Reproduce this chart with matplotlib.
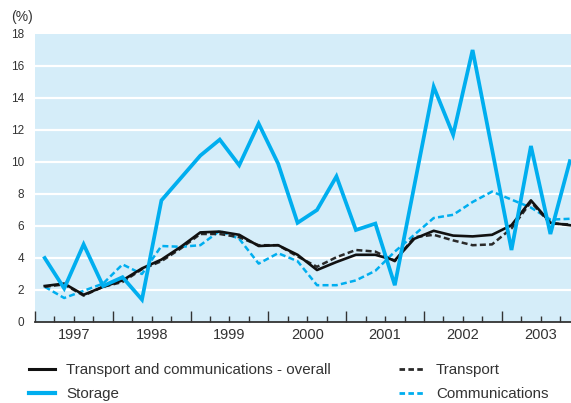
"""Quarterly price change by sector, 1997-2003."""

import matplotlib

matplotlib.use("Agg")

import matplotlib.pyplot as plt
from matplotlib.lines import Line2D
from matplotlib.transforms import blended_transform_factory

plt.rcParams["font.family"] = ["Liberation Sans", "DejaVu Sans"]

years = ["1997", "1998", "1999", "2000", "2001", "2002", "2003"]
quarters = list(range(28))  # 1997 Q1 .. 2003 Q4

overall = [2.25, 2.4, 1.7, 2.2, 2.6, 3.35, 3.9, 4.7, 5.6, 5.65, 5.45, 4.75, 4.8, 4.2,
           3.25, 3.75, 4.2, 4.2, 3.85, 5.2, 5.7, 5.4, 5.35, 5.45, 6.05, 7.6, 6.2, 6.05]
storage = [4.0, 2.1, 4.85, 2.25, 2.8, 1.4, 7.6, 9.0, 10.4, 11.4, 9.8, 12.4, 9.9, 6.2,
           7.0, 9.1, 5.75, 6.15, 2.3, 8.5, 14.7, 11.7, 17.0, 10.8, 4.5, 11.0, 5.5, 10.05]
transport = [2.2, 2.35, 1.65, 2.2, 2.5, 3.3, 3.8, 4.6, 5.5, 5.5, 5.3, 4.8, 4.8, 4.1,
             3.45, 4.05, 4.5, 4.4, 3.8, 5.3, 5.45, 5.1, 4.8, 4.85, 5.85, 7.5, 6.15, 6.1]
communications = [2.2, 1.5, 1.95, 2.4, 3.6, 3.0, 4.75, 4.7, 4.8, 5.7, 5.2, 3.65, 4.3, 3.8,
                  2.3, 2.3, 2.6, 3.2, 4.4, 5.45, 6.5, 6.7, 7.5, 8.15, 7.65, 7.15, 6.4, 6.45]

BLUE = "#00aeef"
BG = "#d5edf9"
GREY = "#333333"

fig = plt.figure(figsize=(5.71, 4.03), dpi=100)
ax = fig.add_axes([35 / 571, 1 - 322 / 403, 536 / 571, 288 / 403])
ax.set_facecolor(BG)

for v in range(2, 18, 2):
    ax.axhline(v, color="white", lw=1.6, zorder=1)

dash = (0, (2.4, 1.3))
ax.plot(quarters, communications, color=BLUE, lw=1.8, ls=dash, zorder=3)
ax.plot(quarters, transport, color="#2a2a2a", lw=1.8, ls=dash, zorder=3)
ax.plot(quarters, overall, color="#111111", lw=1.9, zorder=4)
ax.plot(quarters, storage, color=BLUE, lw=2.7, zorder=5, solid_joinstyle="miter")

ax.set_xlim(-0.5, 27.06)
ax.set_ylim(0, 18)
ax.set_yticks(range(0, 19, 2))
ax.tick_params(axis="y", length=0, pad=8, labelsize=8.5, labelcolor=GREY)

ax.set_xticks([4 * k - 0.5 for k in range(7)])
ax.set_xticks([q - 0.5 for q in quarters if q % 4], minor=True)
ax.tick_params(axis="x", which="major", direction="in", length=8, width=1, color=GREY,
               labelbottom=False)
ax.tick_params(axis="x", which="minor", direction="in", length=4, width=1, color=GREY)

trans = blended_transform_factory(ax.transData, ax.transAxes)
for k, year in enumerate(years):
    ax.text(4 * k + 1.5, -0.02, year, transform=trans, ha="center", va="top",
            fontsize=10.5, color=GREY)

for side in ("top", "right", "left"):
    ax.spines[side].set_visible(False)
ax.spines["bottom"].set_color(GREY)
ax.spines["bottom"].set_linewidth(1.3)

fig.text(11 / 571, 1 - 17 / 403, "(%)", fontsize=10, color=GREY, va="center")

handles = [
    Line2D([], [], color="#111111", lw=2.2),
    Line2D([], [], color=BLUE, lw=3),
    Line2D([], [], color="#2a2a2a", lw=2, ls=(0, (2, 1.2))),
    Line2D([], [], color=BLUE, lw=2, ls=(0, (2, 1.2))),
]
labels = ["Transport and communications - overall", "Storage", "Transport", "Communications"]
fig.legend(handles, labels, loc="upper left", bbox_to_anchor=(29 / 571, 1 - 363 / 403),
           ncol=2, frameon=False, fontsize=10.9, handlelength=1.7, handletextpad=0.75,
           columnspacing=4.5, labelspacing=0.65, borderpad=0, borderaxespad=0,
           labelcolor=GREY)

fig.savefig("out.png", dpi=100)
plt.close(fig)
